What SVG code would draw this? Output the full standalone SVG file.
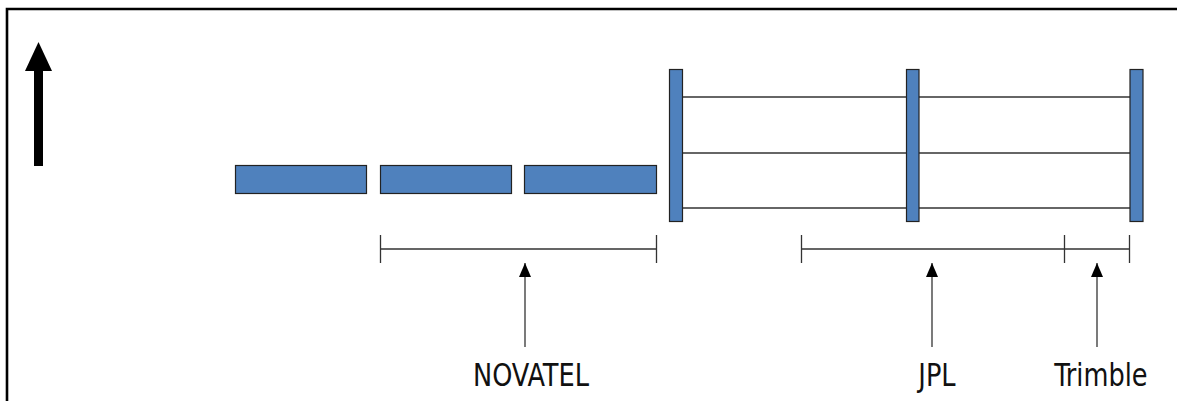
<svg xmlns="http://www.w3.org/2000/svg" width="1177" height="401" viewBox="0 0 1177 401">
<style>
.box{fill:#4f81bd;stroke:#222;stroke-width:1.2}
.ln{stroke:#333;stroke-width:1.3;fill:none}
.lbl{font-family:"DejaVu Sans Condensed","DejaVu Sans",sans-serif;font-size:28.5px;fill:#111;text-anchor:middle}
</style>
<defs>
<marker id="ah" markerWidth="14" markerHeight="12" refX="14" refY="6" orient="auto" markerUnits="userSpaceOnUse" viewBox="0 0 14 12">
<path d="M0,0 L14,6 L0,12 Z" fill="#000"/>
</marker>
</defs>
<rect width="1177" height="401" fill="#fff"/>
<g id="frame">
<path d="M7,401 V9 H1177" fill="none" stroke="#000" stroke-width="2.6"/>
</g>
<g id="up-arrow">
<rect x="34" y="70" width="9" height="96" fill="#000"/>
<path d="M25,71 L38.5,42 L52,71 Z" fill="#000"/>
</g>
<g id="connectors">
<line class="ln" x1="683" y1="97" x2="906" y2="97"/>
<line class="ln" x1="683" y1="153" x2="906" y2="153"/>
<line class="ln" x1="683" y1="208" x2="906" y2="208"/>
<line class="ln" x1="919" y1="97" x2="1130" y2="97"/>
<line class="ln" x1="919" y1="153" x2="1130" y2="153"/>
<line class="ln" x1="919" y1="208" x2="1130" y2="208"/>
<path class="ln" d="M380.5,235 V263 M380.5,249 H656.5 M656.5,235 V263"/>
<path class="ln" d="M801.5,235 V263 M801.5,249 H1129.5 M1064.5,235 V263 M1129.5,235 V263"/>
<line class="ln" x1="525" y1="347" x2="525" y2="263" marker-end="url(#ah)"/>
<line class="ln" x1="932" y1="347" x2="932" y2="263" marker-end="url(#ah)"/>
<line class="ln" x1="1097" y1="347" x2="1097" y2="263" marker-end="url(#ah)"/>
</g>
<g id="seg1"><rect class="box" x="235.5" y="165.5" width="131" height="28"/></g>
<g id="seg2"><rect class="box" x="380.5" y="165.5" width="131" height="28"/></g>
<g id="seg3"><rect class="box" x="524.5" y="165.5" width="132" height="28"/></g>
<g id="bar1"><rect class="box" x="669.5" y="69.5" width="13" height="152"/></g>
<g id="bar2"><rect class="box" x="906.5" y="69.5" width="12.5" height="152"/></g>
<g id="bar3"><rect class="box" x="1130" y="69.5" width="13" height="152"/></g>
<g id="label-novatel"><text class="lbl" transform="translate(531,386) scale(1,1.15)">NOVATEL</text></g>
<g id="label-jpl"><text class="lbl" transform="translate(937,386) scale(1,1.15)">JPL</text></g>
<g id="label-trimble"><text class="lbl" transform="translate(1101,386) scale(1,1.15)">Trimble</text></g>
</svg>
